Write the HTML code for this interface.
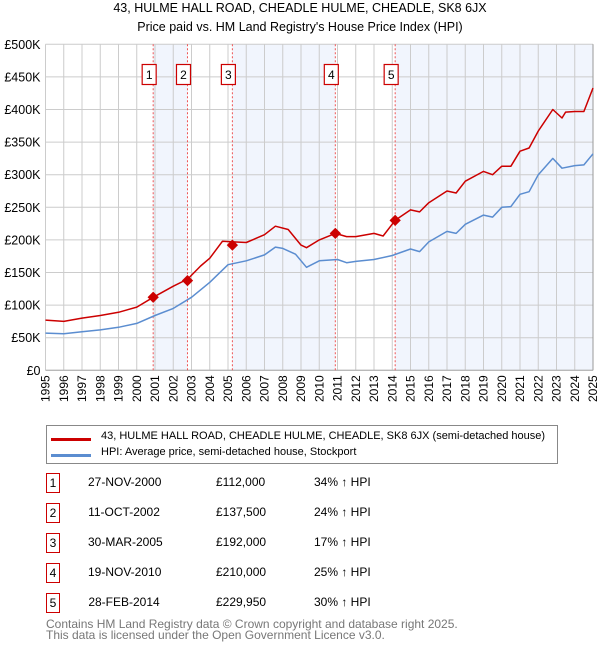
<!DOCTYPE html>
<html><head><meta charset="utf-8"><style>
body{margin:0;background:#fff;font-family:"Liberation Sans","DejaVu Sans",sans-serif;}
#wrap{position:relative;width:600px;height:650px;overflow:hidden;}
.t{position:absolute;font-size:12px;color:#000;white-space:nowrap;}
.box{position:absolute;border:1.5px solid #c00;width:12px;height:18px;font-size:12px;text-align:center;line-height:18px;}
</style></head><body><div id="wrap">
<div class="t" style="left:0;width:600px;text-align:center;top:1px;font-size:12.5px;">43, HULME HALL ROAD, CHEADLE HULME, CHEADLE, SK8 6JX</div>
<div class="t" style="left:0;width:600px;text-align:center;top:20px;font-size:12.5px;">Price paid vs. HM Land Registry's House Price Index (HPI)</div>
<svg id="chart" width="600" height="420" style="position:absolute;left:0;top:0;"></svg>
<div style="position:absolute;left:46px;top:425px;width:510px;height:37px;border:1px solid #888;">
<div style="position:absolute;left:4px;top:12px;width:40px;height:3px;background:#c00;"></div>
<div class="t" style="left:54px;top:4px;font-size:11px;">43, HULME HALL ROAD, CHEADLE HULME, CHEADLE, SK8 6JX (semi-detached house)</div>
<div style="position:absolute;left:4px;top:28px;width:40px;height:3px;background:#5b8dd0;"></div>
<div class="t" style="left:54px;top:20px;font-size:11px;">HPI: Average price, semi-detached house, Stockport</div>
</div>
<div id="table"></div>
<div class="t" style="left:46px;top:619px;color:#777;font-size:12px;line-height:10.5px;">Contains HM Land Registry data © Crown copyright and database right 2025.<br>This data is licensed under the Open Government Licence v3.0.</div>
</div>
<script>
const years=[1995,1996,1997,1998,1999,2000,2001,2002,2003,2004,2005,2006,2007,2008,2009,2010,2011,2012,2013,2014,2015,2016,2017,2018,2019,2020,2021,2022,2023,2024,2025];
const yTicks=[0,50,100,150,200,250,300,350,400,450,500];
const hpiT=[1995,1996,1997,1998,1999,2000,2001,2002,2003,2004,2005,2006,2007,2007.6,2008,2008.7,2009.3,2010,2011,2011.5,2012,2013,2014,2015,2015.5,2016,2017,2017.5,2018,2019,2019.5,2020,2020.5,2021,2021.5,2022,2022.8,2023.3,2024,2024.5,2025];
const hpiV=[57,56,59,62,66,72,84,95,112,135,162,168,177,189,187,178,158,168,170,165,167,170,176,186,182,197,213,210,224,238,235,250,251,270,274,300,325,310,314,315,332];
const propT=[1995,1996,1997,1998,1999,2000,2000.9,2002,2002.8,2003.5,2004,2004.7,2005.3,2006,2007,2007.6,2008.3,2009,2009.3,2010,2010.88,2011.5,2012,2013,2013.5,2014.16,2015,2015.5,2016,2017,2017.5,2018,2019,2019.5,2020,2020.5,2021,2021.5,2022,2022.8,2023.3,2023.5,2024,2024.5,2025];
const propV=[77,75,80,84,89,97,112,129,140,160,172,198,197,196,208,221,216,192,188,200,210,205,205,210,206,230,246,243,257,275,272,290,305,300,313,313,336,341,367,400,387,396,397,397,433];
const saleT=[2000.9,2002.78,2005.24,2010.88,2014.16];
const saleV=[112,137.5,192,210,229.95];
const saleLabels=["1","2","3","4","5"];
const saleDates=["27-NOV-2000","11-OCT-2002","30-MAR-2005","19-NOV-2010","28-FEB-2014"];
const salePrices=["£112,000","£137,500","£192,000","£210,000","£229,950"];
const saleHpi=["34% ↑ HPI","24% ↑ HPI","17% ↑ HPI","25% ↑ HPI","30% ↑ HPI"];

const X0=45.5,X1=593,Y0=370.3,Y1=44.3;
const x=t=>X0+(t-1995)/(2025-1995)*(X1-X0);
const y=v=>Y0-v/500*(Y0-Y1);
const svg=document.getElementById('chart');
const NS='http://www.w3.org/2000/svg';
function mk(tag,attrs,parent){const e=document.createElementNS(NS,tag);for(const k in attrs)e.setAttribute(k,attrs[k]);(parent||svg).appendChild(e);return e;}
const shades=[[saleT[0],saleT[1]],[saleT[2],saleT[3]],[saleT[4],2025]];
shades.forEach((s,i)=>{const r=mk('rect',{x:x(s[0]),y:Y1,width:x(s[1])-x(s[0]),height:Y0-Y1,fill:'#eef3fc',opacity:0.8});

});
years.forEach(yr=>{const l=mk('line',{x1:x(yr),x2:x(yr),y1:Y1,y2:Y0,stroke:'#ccc','stroke-width':1});


const tx=mk('text',{x:0,y:0,transform:`translate(${x(yr)+4},${Y0+5}) rotate(-90)`,'text-anchor':'end','font-size':12,'font-family':'Liberation Sans, DejaVu Sans, sans-serif'});
tx.textContent=yr;

});
yTicks.forEach(v=>{const l=mk('line',{x1:X0,x2:X1,y1:y(v),y2:y(v),stroke:'#ccc','stroke-width':1});


const tx=mk('text',{x:X0-5,y:y(v)+4.5,'text-anchor':'end','font-size':12.5,'font-family':'Liberation Sans, DejaVu Sans, sans-serif'});
tx.textContent=v===0?'£0':'£'+v+'K';

});
mk('line',{x1:X0,x2:X1,y1:Y0,y2:Y0,stroke:'#aaa'});
mk('line',{x1:X1,x2:X1,y1:Y1,y2:Y0,stroke:'#999'});
saleT.forEach((t,i)=>{const l=mk('line',{x1:x(t),x2:x(t),y1:Y1,y2:Y0,stroke:'#e55','stroke-width':1,'stroke-dasharray':'2,2'});


const g=mk('g',{});


mk('rect',{x:x(t)-11,y:64.5,width:14,height:20,fill:'#fff',stroke:'#c00','stroke-width':1.2},g);
const tx=mk('text',{x:x(t)-4,y:79,'text-anchor':'middle','font-size':12,'font-family':'Liberation Sans, DejaVu Sans, sans-serif'},g);tx.textContent=saleLabels[i];});
function path(T,V,color,name){const d=T.map((t,i)=>(i?'L':'M')+x(t).toFixed(1)+','+y(V[i]).toFixed(1)).join('');
const p=mk('path',{d,fill:'none',stroke:color,'stroke-width':1.5,'stroke-linejoin':'round'});

}
path(hpiT,hpiV,'#5b8dd0','hpi-line');
path(propT,propV,'#c00','property-price-line');
saleT.forEach((t,i)=>{const c=mk('rect',{x:x(t)-4,y:y(saleV[i])-4,width:8,height:8,fill:'#c00',transform:`rotate(45 ${x(t)} ${y(saleV[i])})`});

});
const tb=document.getElementById('table');
const rowsY=[483,513,543,573,603];
saleLabels.forEach((s,i)=>{const top=rowsY[i];
const b=document.createElement('div');b.className='box';b.style.left='46px';b.style.top=(top-10)+'px';b.textContent=s;


tb.appendChild(b);
const cells=[[saleDates[i],88,'sale-date'],[salePrices[i],216,'sale-price'],[saleHpi[i],314,'sale-hpi-change']];
cells.forEach(c=>{const d=document.createElement('div');d.className='t';d.style.left=c[1]+'px';d.style.top=(top-8)+'px';d.textContent=c[0];
if(c[2]==='sale-date'){d.style.width='72px';d.style.textAlign='center';}


tb.appendChild(d);});});
</script></body></html>
